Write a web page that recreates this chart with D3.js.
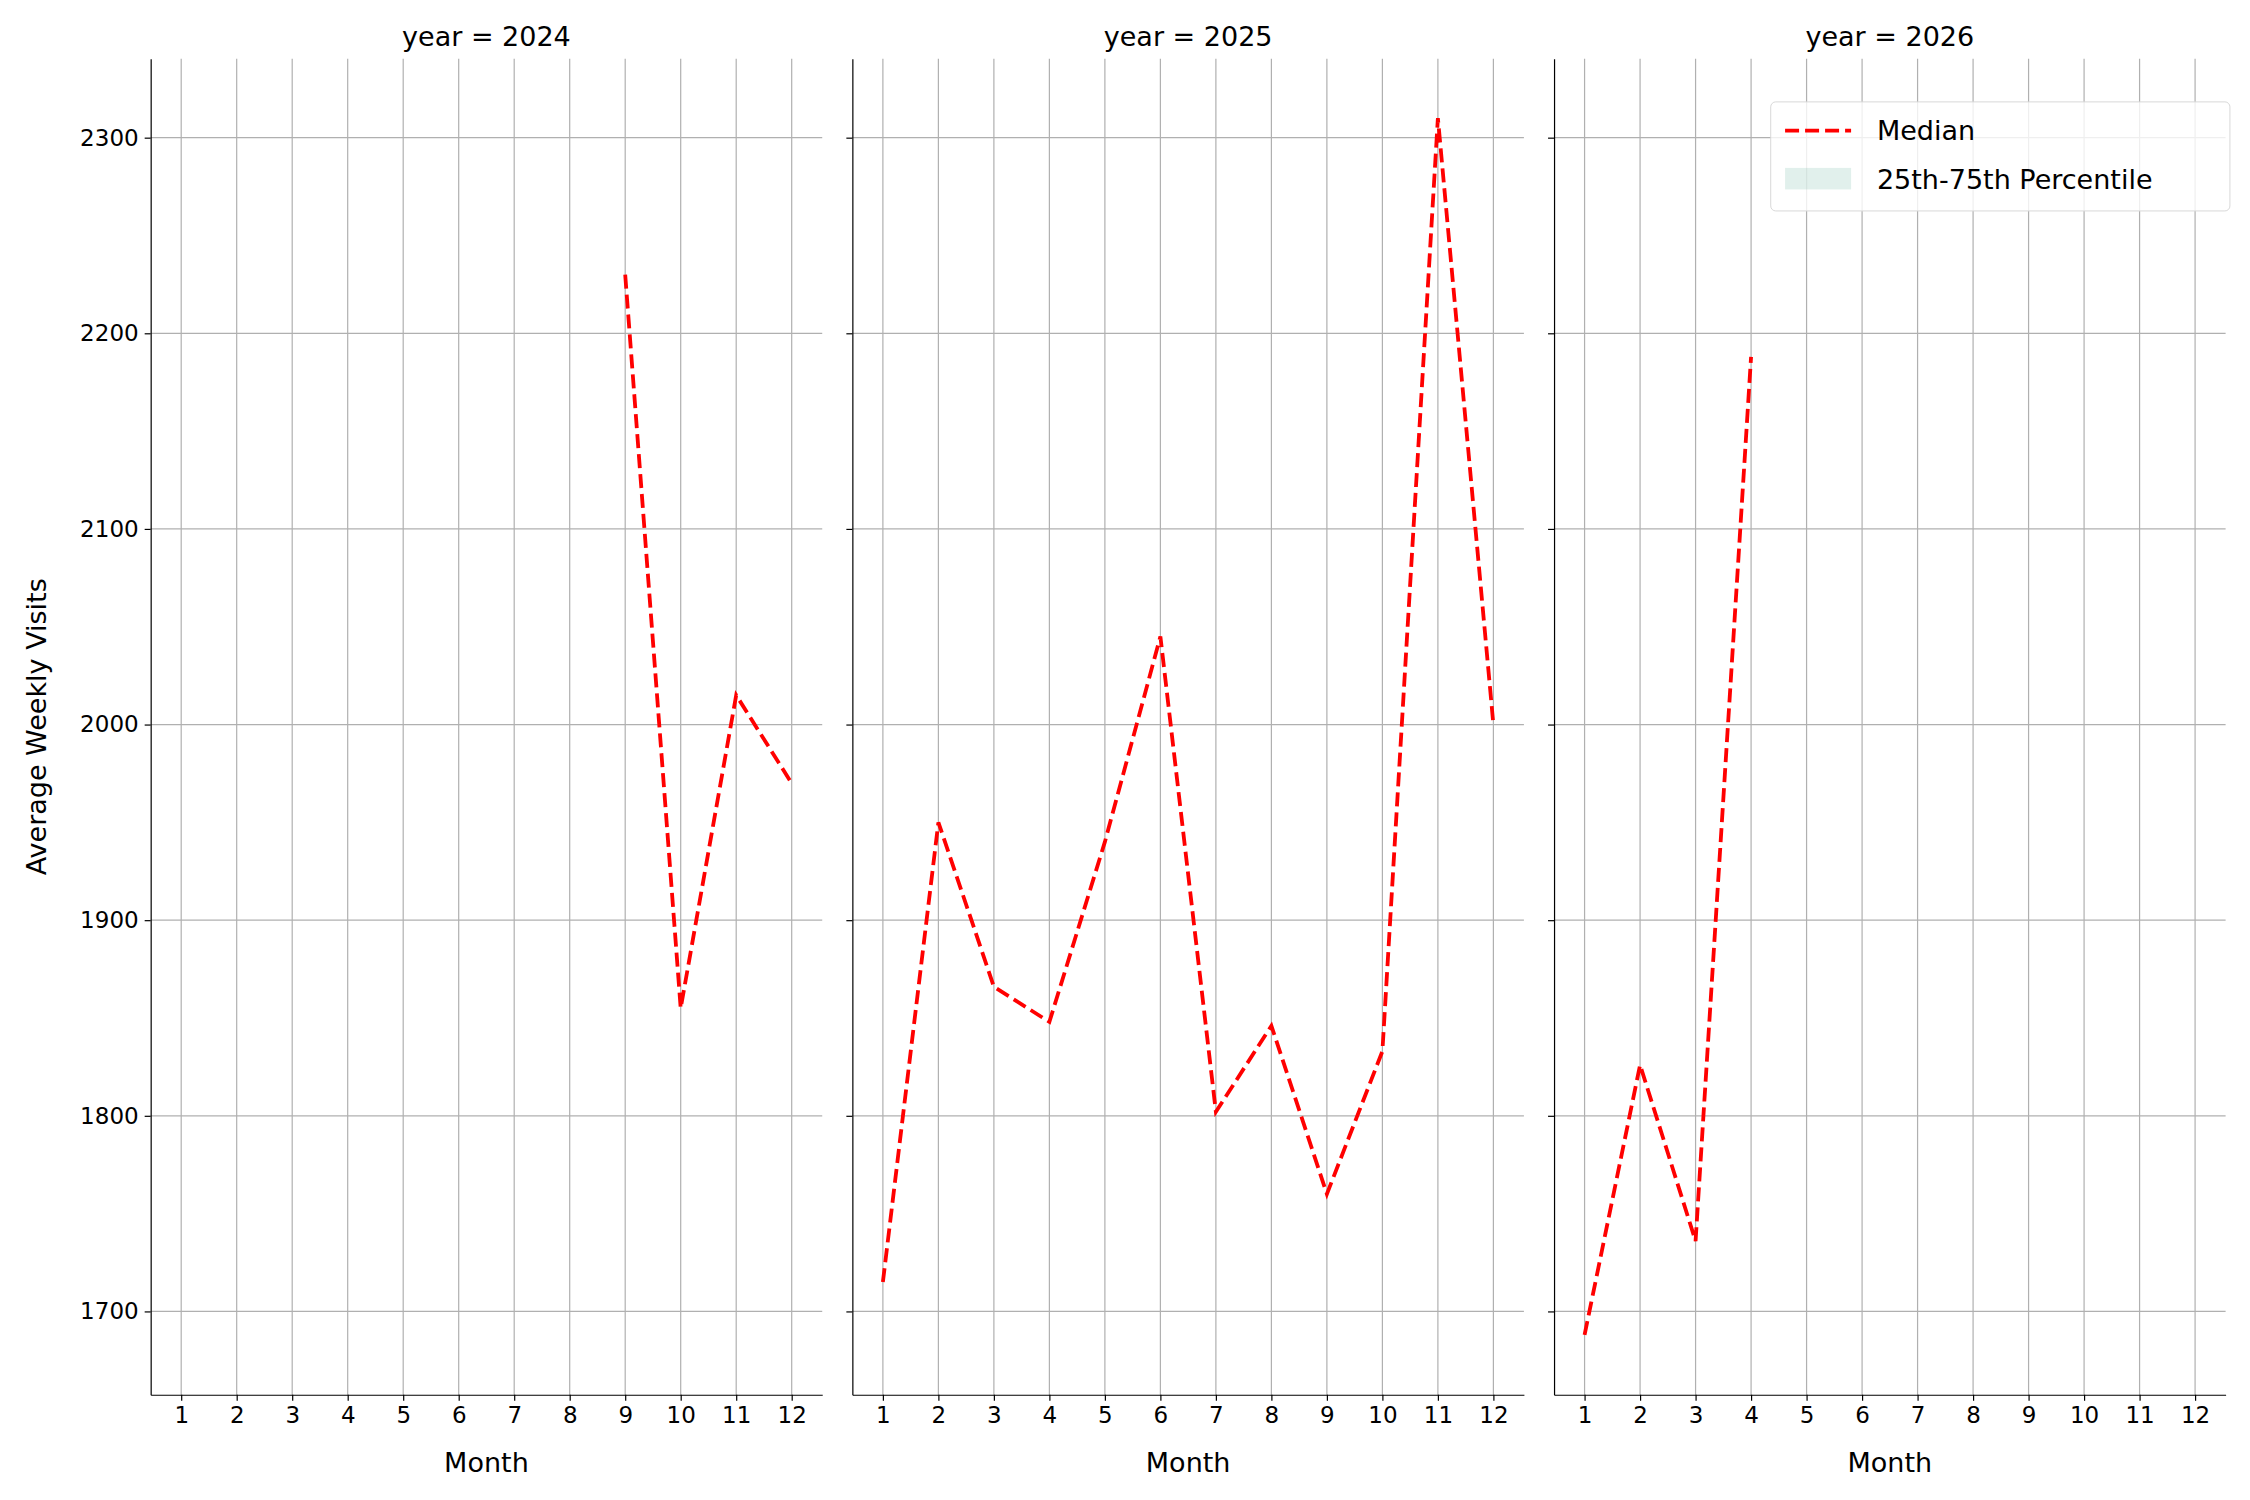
<!DOCTYPE html>
<html><head><meta charset="utf-8">
<script src="https://cdn.jsdelivr.net/npm/d3@7"></script>
<style>body{margin:0;background:#fff}text{font-family:"DejaVu Sans",sans-serif}</style>
</head><body><svg id="chart"></svg>
<script>
var years = [2024, 2025, 2026];
var months = [1,2,3,4,5,6,7,8,9,10,11,12];
var yTicks = [1700,1800,1900,2000,2100,2200,2300];
var median2024 = [[9,2230],[10,1855],[11,2015],[12,1970]];
var median2025 = [[1,1715],[2,1950],[3,1866],[4,1848],[5,1940],[6,2045],[7,1802],[8,1846],[9,1760],[10,1833],[11,2310],[12,2000]];
var median2026 = [[1,1688],[2,1826],[3,1736],[4,2188]];
var series = [median2024, median2025, median2026];

var s = 2250 / 1568;
var W = 2250, H = 1500;
var svg = d3.select("#chart").attr("width", W).attr("height", H);
var panelLeft = [105, 594, 1083].map(d => d * s);
var pw = 468 * s, plotTop = 41 * s, plotBottom = 972 * s;

var x = d3.scaleLinear().domain([0.45, 12.55]).range([0, pw]);
var y = d3.scaleLinear().domain([1657.4, 2340.3]).range([plotBottom, plotTop]);

years.forEach(function (yr, i) {
    var g = svg.append("g").attr("transform", "translate(" + panelLeft[i] + ",0)");
    // grid
    g.selectAll(".vg").data(months).enter().append("line")
        .attr("x1", d => x(d)).attr("x2", d => x(d)).attr("y1", plotTop).attr("y2", plotBottom)
        .attr("stroke", "#b0b0b0").attr("stroke-width", 1.2);
    g.selectAll(".hg").data(yTicks).enter().append("line")
        .attr("x1", 0).attr("x2", pw).attr("y1", d => y(d)).attr("y2", d => y(d))
        .attr("stroke", "#b0b0b0").attr("stroke-width", 1.2);

    var xa = g.append("g").attr("transform", "translate(0," + plotBottom + ")")
        .call(d3.axisBottom(x).tickValues(months).tickSize(6).tickPadding(6).tickSizeOuter(0));
    xa.selectAll("text").attr("font-size", 23).attr("fill", "#000");
    var ya = g.append("g").call(d3.axisLeft(y).tickValues(yTicks).tickSize(6).tickPadding(6).tickSizeOuter(0)
        .tickFormat(i === 0 ? d3.format("d") : ""));
    ya.selectAll("text").attr("font-size", 23).attr("fill", "#000");
    g.selectAll(".domain").attr("stroke", "#000").attr("stroke-width", 1.2);
    g.selectAll(".tick line").attr("stroke", "#000").attr("stroke-width", 1.2);

    g.append("text").attr("x", pw / 2).attr("y", 32 * s).attr("text-anchor", "middle")
        .attr("font-size", 27).text("year = " + yr);
    g.append("text").attr("x", pw / 2).attr("y", 1026 * s).attr("text-anchor", "middle")
        .attr("font-size", 27).text("Month");

    g.append("path").datum(series[i])
        .attr("d", d3.line().x(d => x(d[0])).y(d => y(d[1])))
        .attr("fill", "none").attr("stroke", "red").attr("stroke-width", 3.8)
        .attr("stroke-dasharray", "14,6");
});

svg.append("text").attr("transform", "translate(" + (32 * s) + "," + ((plotTop + plotBottom) / 2) + ") rotate(-90)")
    .attr("text-anchor", "middle").attr("font-size", 27).text("Average Weekly Visits");

// legend
var lg = svg.append("g").attr("transform", "translate(" + (1234 * s) + "," + (71 * s) + ")");
lg.append("rect").attr("width", 320 * s).attr("height", 76 * s).attr("rx", 5)
    .attr("fill", "#fff").attr("fill-opacity", 0.8).attr("stroke", "#d8d8d8");
lg.append("line").attr("x1", 10 * s).attr("x2", 56 * s).attr("y1", 20 * s).attr("y2", 20 * s)
    .attr("stroke", "red").attr("stroke-width", 3.8).attr("stroke-dasharray", "14,6");
lg.append("rect").attr("x", 10 * s).attr("y", 46 * s).attr("width", 46 * s).attr("height", 15 * s)
    .attr("fill", "#69b3a2").attr("fill-opacity", 0.2);
lg.append("text").attr("x", 74 * s).attr("y", 20 * s).attr("dy", "0.35em").attr("font-size", 27).text("Median");
lg.append("text").attr("x", 74 * s).attr("y", 54 * s).attr("dy", "0.35em").attr("font-size", 27).text("25th-75th Percentile");
</script></body></html>
